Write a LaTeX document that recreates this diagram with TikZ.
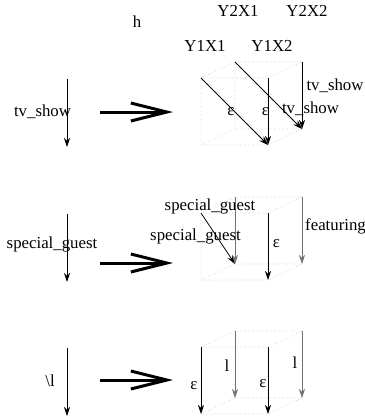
\documentclass[tikz,border=0pt]{standalone}
\usepackage{fontspec}
\setmainfont{Liberation Serif}
\usetikzlibrary{arrows.meta}
\tikzset{
  lbl/.style={font=\fontsize{16.8}{19}\selectfont, inner sep=0pt, anchor=base},
  cubeedge/.style={dotted, draw=black!22, line width=0.6pt},
  trans/.style={-{Stealth[length=9pt,width=6pt]}, line width=0.8pt},
  backtrans/.style={trans, draw=black!55},
  bigarrow/.style={-{Straight Barb[length=36pt,width=18pt]}, line width=3pt}
}

\begin{document}
\begin{tikzpicture}[x=1pt,y=-1pt]
  \useasboundingbox (0,0) rectangle (364,420);
  % cubes, left arrows and big arrows
  \foreach \r/\t in {1/78,2/213,3/347} {
    \coordinate (a\r) at (201,\t);
    \coordinate (b\r) at (268,\t);
    \coordinate (c\r) at (235,\t-16);
    \coordinate (d\r) at (302,\t-16);
    \coordinate (A\r) at (201,\t+67);
    \coordinate (B\r) at (268,\t+67);
    \coordinate (C\r) at (235,\t+51);
    \coordinate (D\r) at (302,\t+51);
    \draw[cubeedge] (a\r)--(b\r)--(B\r)--(A\r)--cycle
      (c\r)--(d\r)--(D\r)--(C\r)--cycle
      (a\r)--(c\r) (b\r)--(d\r) (A\r)--(C\r) (B\r)--(D\r);
    \coordinate (s\r) at (67,\t+1);
    \coordinate (e\r) at (67,\t+69);
    \draw[trans] (s\r)--(e\r);
  }
  \foreach \r/\m in {1/112,2/263,3/380} {
    \coordinate (u\r) at (100,\m);
    \coordinate (v\r) at (173,\m);
    \draw[bigarrow] (u\r)--(v\r);
  }
  % state labels
  \node[lbl] (h) at (137,28) {h};
  \node[lbl] (y2x1) at (238,17) {Y2X1};
  \node[lbl] (y2x2) at (307,17) {Y2X2};
  \node[lbl] (y1x1) at (205,52) {Y1X1};
  \node[lbl] (y1x2) at (272,52) {Y1X2};
  % left column
  \node[lbl] (in1) at (42.5,116) {tv\_show};
  \node[lbl] (in2) at (52,248) {special\_guest};
  \node[lbl] (in3) at (50,386) {\textbackslash l};
  % row 1
  \draw[trans] (a1)--(B1);
  \draw[trans] (b1)--(B1);
  \draw[trans] (c1)--(D1);
  \draw[trans] (d1)--(D1);
  \node[lbl] (r1a) at (231,115) {ε};
  \node[lbl] (r1b) at (265.5,115) {ε};
  \node[lbl] (r1c) at (310.5,113) {tv\_show};
  \node[lbl] (r1d) at (335,90) {tv\_show};
  % row 2
  \draw[trans] (a2)--(C2);
  \draw[backtrans] (c2)--(C2);
  \draw[trans] (b2)--(B2);
  \draw[backtrans] (d2)--(D2);
  \node[lbl] (r2a) at (210,210.7) {special\_guest};
  \node[lbl] (r2c) at (195.5,240) {special\_guest};
  \node[lbl] (r2b) at (276.5,247.5) {ε};
  \node[lbl,anchor=base west] (r2d) at (305,230) {featuring};
  % row 3
  \draw[trans] (a3)--(A3);
  \draw[backtrans] (c3)--(C3);
  \draw[trans] (b3)--(B3);
  \draw[backtrans] (d3)--(D3);
  \node[lbl] (r3a) at (194,389) {ε};
  \node[lbl] (r3c) at (227,371) {l};
  \node[lbl] (r3b) at (263,387) {ε};
  \node[lbl] (r3d) at (295,368) {l};
\end{tikzpicture}
\end{document}
